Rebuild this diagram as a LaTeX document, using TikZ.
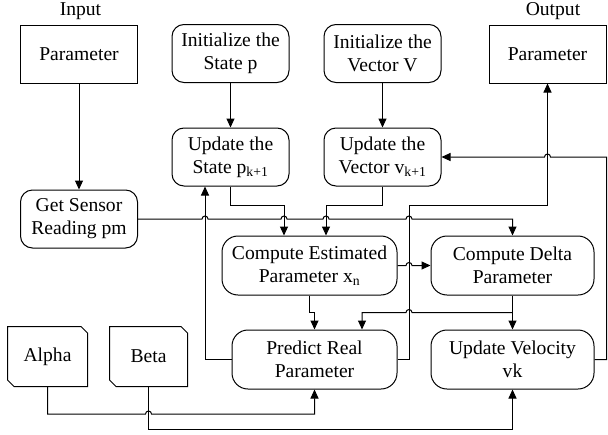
\documentclass[tikz,border=0pt]{standalone}
\usepackage{fontspec}
\setmainfont{Liberation Serif}
\usetikzlibrary{arrows.meta,calc}
\begin{document}
\begin{tikzpicture}[x=1pt,y=-1pt,
  line width=1pt,
  every node/.style={font=\fontsize{19.6}{23}\selectfont, inner sep=0pt},
  box/.style={draw, align=center, minimum height=58pt},
  rbox/.style={box, rounded corners=12pt},
  wbox/.style={box, rounded corners=16pt, minimum height=59pt},
  card/.style={align=center, minimum height=59pt},
  arr/.style={-{Triangle[length=9pt,width=8pt]}},
  lbl/.style={anchor=base}
]
\useasboundingbox (0,0) rectangle (608,434);

% labels
\node[lbl] (linp) at (80.5,15.5) {Input};
\node[lbl] (lout) at (553,15) {Output};

% nodes
\node[box, minimum width=117pt] (inp) at (79,54) {Parameter};
\node[rbox, minimum width=117pt] (isp) at (230.5,53.5) {Initialize the\\State p};
\node[rbox, minimum width=117pt] (ivv) at (382.5,53.5) {Initialize the\\Vector V};
\node[box, minimum width=117pt] (out) at (547.5,54) {Parameter};
\node[rbox, minimum width=117pt] (usp) at (230.5,157) {Update the\\State p\textsubscript{k+1}};
\node[rbox, minimum width=117pt] (uvv) at (382.5,157) {Update the\\Vector v\textsubscript{k+1}};
\node[rbox, minimum width=117pt] (gs) at (79,219) {Get Sensor\\Reading pm};
\node[wbox, minimum width=175pt] (ce) at (309.5,265.5) {Compute Estimated\\Parameter x\textsubscript{n}};
\node[wbox, minimum width=163pt] (cd) at (512.5,265.5) {Compute Delta\\Parameter};
\node[wbox, minimum width=165pt] (pr) at (314.5,359.5) {Predict Real\\Parameter};
\node[wbox, minimum width=163pt] (uv) at (512.5,359.5) {Update Velocity\\vk};
\node[card, minimum width=79pt] (al) at (47.5,356.5) {Alpha};
\node[card, minimum width=77pt] (be) at (148.5,356.5) {Beta};

% card outlines
\foreach \n in {al,be}{
  \draw ([xshift=-6.5pt]\n.north east) -- ([yshift=-6.5pt]\n.north east)
    -- (\n.south east) -- ([xshift=6.5pt]\n.south west)
    -- ([yshift=6.5pt]\n.south west) -- (\n.north west) -- cycle;
}

% helper coordinates
\coordinate (usIn) at ([xshift=-25.5pt]usp.south);
\coordinate (ceA) at ([xshift=-25.5pt]ce.north);
\coordinate (ceB) at ([xshift=16.5pt]ce.north);
\coordinate (oB) at (409,205.5);
\coordinate (prB) at ([xshift=47.5pt]pr.north);
\coordinate (jn) at ($(cd.south)+(0,17)$);
\coordinate (rt) at (606.5,0);
\coordinate (aY) at (0,414);
\coordinate (bY) at (0,429);

% connectors
\draw[arr] (inp.south) -- (gs.north);
\draw[arr] (isp.south) -- (usp.north);
\draw[arr] (ivv.south) -- (uvv.north);
\draw[arr] (usp.south) -- ++(0,18.5) -| (ceA);
\draw[arr] (uvv.south) -- ++(0,18.5) -| (ceB);
\draw[arr] (gs.east)
  -- ([xshift=-3pt]usIn |- gs.east) arc[start angle=180,end angle=0,radius=3pt]
  -- ([xshift=-3pt]ceA |- gs.east) arc[start angle=180,end angle=0,radius=3pt]
  -- ([xshift=-3pt]ceB |- gs.east) arc[start angle=180,end angle=0,radius=3pt]
  -- ([xshift=-3pt]oB |- gs.east) arc[start angle=180,end angle=0,radius=3pt]
  -- (cd.north |- gs.east) -- (cd.north);
\draw[arr] (pr.west) -| (usIn);
\draw[arr] (pr.east) -| (oB) -| (out.south);
\draw[arr] (ce.east) -- ([xshift=-3pt]oB |- ce.east) arc[start angle=180,end angle=0,radius=3pt] -- (cd.west);
\draw[arr] (ce.south) -- ++(0,17) -| (pr.north);
\draw[arr] (cd.south) -- (uv.north);
\draw[arr] (jn) -- ([xshift=3pt]oB |- jn) arc[start angle=0,end angle=180,radius=3pt] -- (prB |- jn) -- (prB);
\draw[arr] (uv.east) -| (rt |- uvv.east) -- ([xshift=3pt]out.south |- uvv.east) arc[start angle=0,end angle=180,radius=3pt] -- (uvv.east);
\draw[arr] (al.south) -- (al.south |- aY) -- ([xshift=-3pt]be.south |- aY) arc[start angle=180,end angle=0,radius=3pt] -- (pr.south |- aY) -- (pr.south);
\draw[arr] (be.south) -- (be.south |- bY) -| (uv.south);
\end{tikzpicture}
\end{document}
